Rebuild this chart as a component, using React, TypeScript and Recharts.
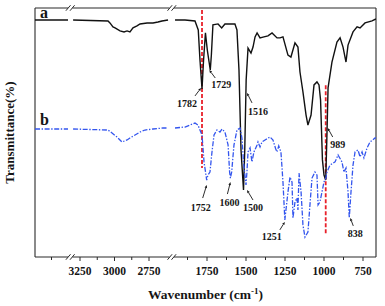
import {
  ComposedChart,
  Line,
  XAxis,
  YAxis,
  ReferenceLine,
  ReferenceDot,
} from "recharts";

// wavenumbers (cm-1) and transmittance (%)
const farWn = [4000, 3750, 3500];
const aFarT = [95.2, 95.2, 95.2];
const bFarT = [51.4, 51.4, 51.4];

const aHighWn = [3300, 3047, 3033, 3011, 2996, 2960, 2931, 2909, 2888, 2866, 2837, 2815, 2764, 2721, 2685, 2656, 2612];
const aHighT = [95.2, 94.8, 94, 92.4, 92, 90.8, 90.4, 90.8, 90.4, 92, 92.8, 93.6, 94, 94, 94.4, 94.8, 95.2];

const bHighWn = [3300, 3047, 3018, 2982, 2946, 2909, 2888, 2851, 2815, 2779, 2721, 2649, 2612];
const bHighT = [51.4, 51, 49.8, 48.2, 46.2, 47, 47.8, 49, 50.2, 51, 51.4, 51.8, 51.8];

const aLowWn = [
  1955, 1891, 1827, 1806, 1795, 1782, 1772, 1760, 1748, 1729, 1722, 1712, 1679, 1656, 1635,
  1571, 1558, 1545, 1532, 1516, 1508, 1499, 1487, 1468, 1455, 1442, 1429, 1410, 1385, 1359,
  1333, 1301, 1282, 1263, 1231, 1212, 1186, 1167, 1154, 1135, 1115, 1103, 1083, 1064, 1045,
  1032, 1022, 1010, 1000, 989, 982, 974, 949, 917, 897, 878, 859, 846, 814, 788, 769, 737,
  692, 667,
];
const aLowT = [
  95.2, 95.2, 94.8, 91.2, 79.1, 67.5, 79.1, 90, 83.1, 75.1, 81.1, 93.2, 93.6, 92, 93.6,
  93.6, 91.2, 75.1, 43, 26.9, 43, 71.1, 83.9, 81.9, 84.3, 88.4, 90, 88, 88.4, 88.8,
  90, 88, 88, 88.4, 81.1, 80.3, 86, 84.3, 74.3, 66.3, 57, 53, 57, 69.1, 70.3,
  69.1, 63, 39, 32.9, 30.9, 47, 67.9, 78.3, 86.3, 88, 84.3, 78.3, 85.1, 90.4, 92.4, 92, 94,
  94.8, 95.6,
];

const bLowWn = [
  1955, 1891, 1827, 1808, 1782, 1769, 1752, 1744, 1731, 1718, 1705, 1686, 1667, 1654, 1635,
  1615, 1605, 1600, 1592, 1577, 1558, 1538, 1526, 1516, 1500, 1494, 1487, 1474, 1462, 1449,
  1429, 1423, 1410, 1397, 1378, 1346, 1327, 1310, 1301, 1290, 1276, 1263, 1251, 1231, 1218,
  1205, 1199, 1186, 1173, 1167, 1160, 1147, 1135, 1122, 1103, 1090, 1077, 1058, 1045, 1038,
  1026, 1013, 1000, 989, 981, 962, 929, 910, 885, 872, 859, 846, 838, 827, 814, 801, 782,
  769, 756, 744, 724, 705, 673, 667,
];
const bLowT = [
  51.8, 52.2, 53.8, 53, 49, 38.2, 30.9, 32.9, 34.1, 42.2, 49, 51, 50.2, 51.4, 50.2,
  45, 34.1, 31.7, 34.1, 45, 51, 51.8, 47.8, 38.2, 28.9, 34.1, 42.2, 43.8, 38.2, 42.2,
  45, 46.2, 44.2, 46.2, 47, 48.2, 47, 43.5, 42.2, 44.6, 42.2, 30.1, 14.9, 26.1, 32.1,
  30.1, 15.7, 22.1, 23.7, 18.9, 33.7, 26.1, 12.9, 8, 10, 20.9, 31.7, 34.1, 32.9, 20.9,
  22.1, 26.1, 30.1, 31.5, 34.1, 36.9, 38.2, 41, 38.2, 34.1, 35.7, 26.1, 15.7, 26.1, 36.9, 42.2, 43,
  40.2, 42.2, 39.8, 43.8, 46.2, 47.8, 47.8,
];

const tickWn = [3750, 3250, 3125, 3000, 2875, 2750, 1875, 1750, 1625, 1500, 1375, 1250, 1125, 1000, 875, 750];
const tickLabels = ["", "3250", "", "3000", "", "2750", "", "1750", "", "1500", "", "1250", "", "1000", "", "750"];

// peak labels: text, wavenumber, transmittance at arrow tip
const peakText = ["1782", "1729", "1516", "1752", "1600", "1500", "1251", "989", "838"];
const peakWn = [1782, 1729, 1516, 1752, 1600, 1500, 1251, 989, 838];
const peakT = [67.9, 75.1, 65.9, 28.9, 30.1, 26.9, 14.1, 51.8, 15.7];

// label layout in px relative to the tip: [tipDx, tailDx, tailDy, textDx, textDy]
const peakLayout = [
  [-1, -7, 8, -15, 19],
  [-1, 5, 8, 11, 18],
  [3.5, 8.5, 10, 14.5, 22],
  [0, -4, 13, -6, 26],
  [0, -3, 12, -1, 24],
  [1, 7, 10, 7, 21],
  [0, -5, 8, -13, 18],
  [2, 7, 9, 12, 20],
  [1, 4, 8, 6, 19],
];

// broken axis: three pieces of different scale
function posOf(wn: number) {
  if (wn >= 3400) return (4000 - wn) * 0.066;
  if (wn >= 2000) return 45 + (3250 - wn) * 0.138;
  return 172 + (1750 - wn) * 0.156;
}

type Pt = { pos: number; t: number | null };

function build(parts: [number[], number[]][]): Pt[] {
  const out: Pt[] = [];
  parts.forEach(([wn, t], i) => {
    if (i > 0) {
      const prev = out[out.length - 1].pos;
      out.push({ pos: (prev + posOf(wn[0])) / 2, t: null });
    }
    wn.forEach((w, j) => out.push({ pos: posOf(w), t: t[j] }));
  });
  return out;
}

const seriesA = build([[farWn, aFarT], [aHighWn, aHighT], [aLowWn, aLowT]]);
const seriesB = build([[farWn, bFarT], [bHighWn, bHighT], [bLowWn, bLowT]]);
const tickPos = tickWn.map(posOf);

const FONT = '"Liberation Serif", "Times New Roman", serif';
const INK = "#151515";
const FRAME = "#2a2a2a";
const MAXPOS = 341;

const axisPieces = [
  [0, 33],
  [37.5, 134.5],
  [139, MAXPOS],
];
const breakPos = [33.2, 37.3, 134.8, 138.8];

function renderTick(props: any) {
  const { x, y, payload } = props;
  const i = tickPos.findIndex((p) => Math.abs(p - payload.value) < 0.01);
  const label = i >= 0 ? tickLabels[i] : "";
  return (
    <g>
      <line x1={x} x2={x} y1={y} y2={y + (label ? 4 : 3)} stroke={FRAME} strokeWidth={1} />
      {label && (
        <text x={x} y={y + 18} textAnchor="middle" fontFamily={FONT} fontWeight="bold" fontSize={11.5} fill={INK}>
          {label}
        </text>
      )}
    </g>
  );
}

function PeakMark(props: any, k: number) {
  const { cx, cy } = props;
  const [tipDx, tailDx, tailDy, textDx, textDy] = peakLayout[k];
  const tx = cx + tipDx;
  const ty = cy;
  const sx = cx + tailDx;
  const sy = cy + tailDy;
  const ang = Math.atan2(ty - sy, tx - sx);
  const h = 3;
  const w = 1.3;
  const bx = tx - h * Math.cos(ang);
  const by = ty - h * Math.sin(ang);
  const px = -Math.sin(ang) * w;
  const py = Math.cos(ang) * w;
  return (
    <g>
      <line x1={sx} y1={sy} x2={bx} y2={by} stroke={INK} strokeWidth={0.9} />
      <polygon points={`${tx},${ty} ${bx + px},${by + py} ${bx - px},${by - py}`} fill={INK} />
      <text x={cx + textDx} y={cy + textDy} textAnchor="middle" fontFamily={FONT} fontWeight="bold" fontSize={10} fill={INK}>
        {peakText[k]}
      </text>
    </g>
  );
}

export default function App() {
  return (
    <div style={{ position: "absolute", left: 0, top: 0, background: "#fff" }}>
      <ComposedChart width={385} height={306} margin={{ top: 8, right: 9, bottom: 19, left: 0 }}>
        <XAxis
          dataKey="pos"
          type="number"
          domain={[0, MAXPOS]}
          allowDataOverflow
          ticks={tickPos}
          interval={0}
          tickLine={false}
          axisLine={false}
          tickSize={0}
          tickMargin={0}
          height={30}
          tick={renderTick}
          label={{
            content: (p: any) => {
              const vb = p.viewBox || {};
              return (
                <text x={vb.x + vb.width / 2} y={vb.y + 42} textAnchor="middle" fontFamily={FONT} fontWeight="bold" fontSize={13.5} fill={INK}>
                  Wavenumber (cm
                  <tspan dy={-5} fontSize={9}>-1</tspan>
                  <tspan dy={5}>)</tspan>
                </text>
              );
            },
          }}
        />
        <YAxis
          type="number"
          domain={[0, 100]}
          allowDataOverflow
          width={35}
          tick={false}
          tickLine={false}
          axisLine={false}
          label={{
            content: (p: any) => {
              const vb = p.viewBox || {};
              const cx = 14;
              const cy = vb.y + vb.height / 2;
              return (
                <text x={cx} y={cy} transform={`rotate(-90 ${cx} ${cy})`} textAnchor="middle" fontFamily={FONT} fontWeight="bold" fontSize={13} fill={INK}>
                  Transmittance(%)
                </text>
              );
            },
          }}
        />

        <ReferenceLine x={0} stroke={FRAME} strokeWidth={1.1} ifOverflow="visible" />
        <ReferenceLine x={MAXPOS} stroke={FRAME} strokeWidth={1.1} ifOverflow="visible" />
        {axisPieces.map(([a, b], i) => (
          <ReferenceLine key={`b${i}`} segment={[{ x: a, y: 0 }, { x: b, y: 0 }]} stroke={FRAME} strokeWidth={1.1} ifOverflow="visible" />
        ))}
        {axisPieces.map(([a, b], i) => (
          <ReferenceLine key={`t${i}`} segment={[{ x: a, y: 100 }, { x: b, y: 100 }]} stroke={FRAME} strokeWidth={1.1} ifOverflow="visible" />
        ))}
        {breakPos.map((p, i) => (
          <ReferenceLine key={`sb${i}`} segment={[{ x: p - 2.3, y: -1.1 }, { x: p + 2.3, y: 1.1 }]} stroke={FRAME} strokeWidth={1} ifOverflow="visible" />
        ))}
        {breakPos.map((p, i) => (
          <ReferenceLine key={`st${i}`} segment={[{ x: p - 2.3, y: 98.9 }, { x: p + 2.3, y: 101.1 }]} stroke={FRAME} strokeWidth={1} ifOverflow="visible" />
        ))}

        <ReferenceLine segment={[{ x: posOf(1782), y: 99.2 }, { x: posOf(1782), y: 35.7 }]} stroke="#e8202a" strokeWidth={1.8} strokeDasharray="4 2" ifOverflow="visible" />
        <ReferenceLine segment={[{ x: posOf(989), y: 69 }, { x: posOf(989), y: 8.8 }]} stroke="#e8202a" strokeWidth={1.8} strokeDasharray="4 2" ifOverflow="visible" />

        <Line data={seriesA} dataKey="t" type="linear" dot={false} activeDot={false} stroke="#111" strokeWidth={1.4} connectNulls={false} isAnimationActive={false} />
        <Line data={seriesB} dataKey="t" type="linear" dot={false} activeDot={false} stroke="#3355ee" strokeWidth={1.3} strokeDasharray="5 1.6 1.4 1.6" connectNulls={false} isAnimationActive={false} />

        {peakWn.map((w, k) => (
          <ReferenceDot key={peakText[k]} x={posOf(w)} y={peakT[k]} r={0} ifOverflow="visible" shape={(p: any) => PeakMark(p, k)} />
        ))}
        <ReferenceDot x={0} y={95.2} r={0} ifOverflow="visible" shape={(p: any) => (
          <text x={p.cx + 5} y={p.cy - 2} fontFamily={FONT} fontWeight="bold" fontSize={16} fill={INK}>a</text>
        )} />
        <ReferenceDot x={0} y={51.4} r={0} ifOverflow="visible" shape={(p: any) => (
          <text x={p.cx + 5} y={p.cy - 4} fontFamily={FONT} fontWeight="bold" fontSize={16} fill={INK}>b</text>
        )} />
      </ComposedChart>
    </div>
  );
}
